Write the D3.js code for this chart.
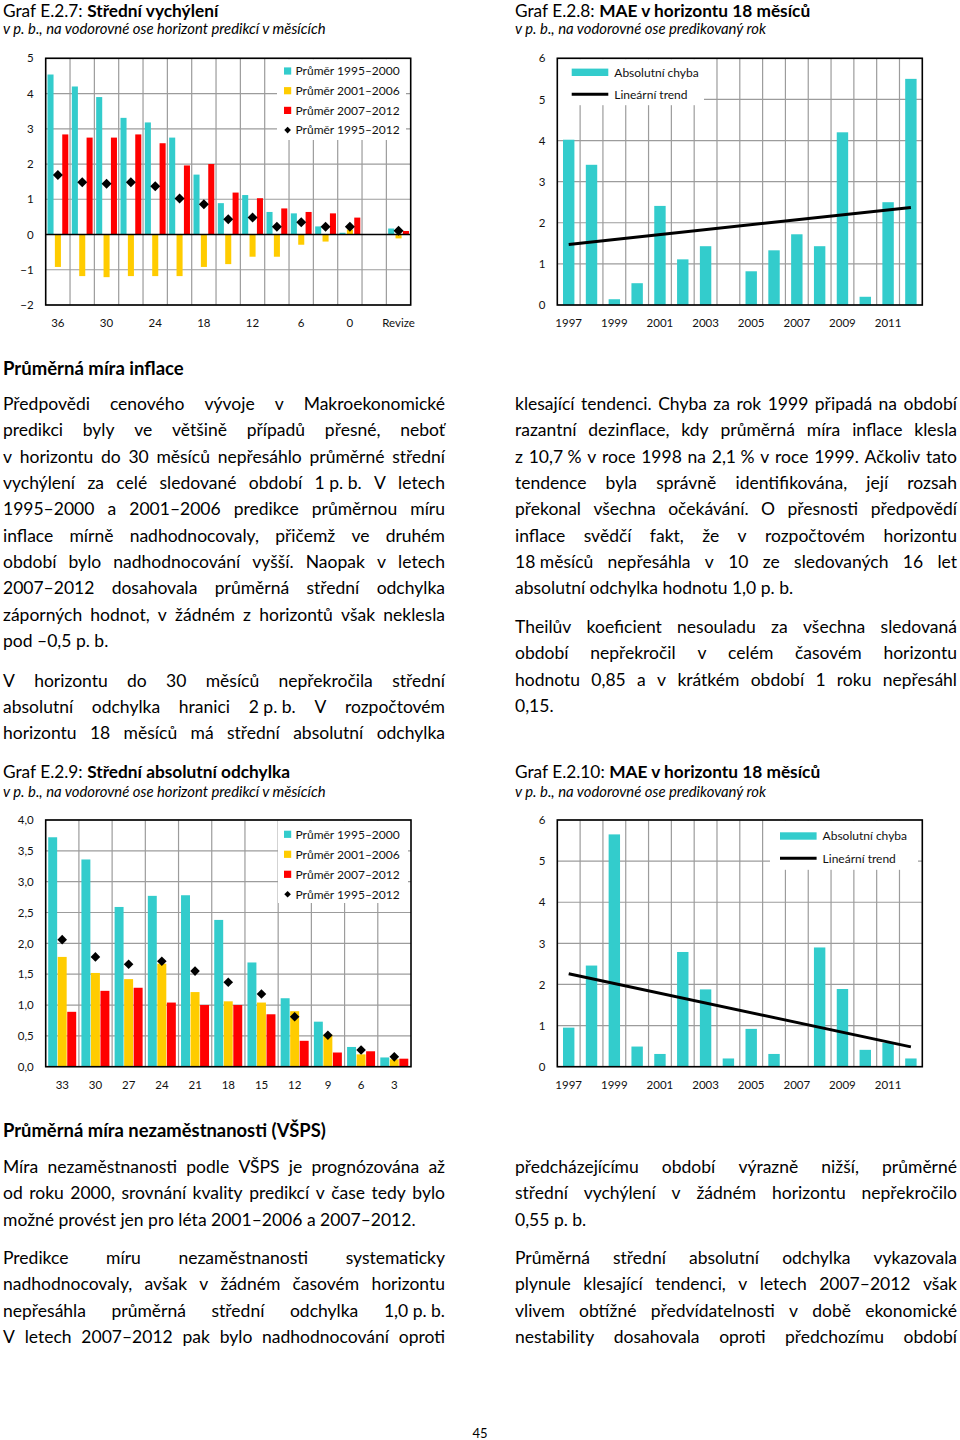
<!DOCTYPE html>
<html><head><meta charset="utf-8">
<script src="https://cdn.jsdelivr.net/npm/d3@7"></script>
<style>
html,body{margin:0;padding:0;background:#fff;}
body{width:960px;height:1440px;position:relative;overflow:hidden;}
svg{position:absolute;left:0;top:0;}
</style></head><body>
<script>
// ---------------- DATA ----------------
// Graf E.2.7: Střední vychýlení (bias), horizons in months
const biasHorizons = ["36","33","30","27","24","21","18","15","12","9","6","3","0"," ","Revize"];
const bias1995_2000 = [4.54,4.20,3.90,3.31,3.18,2.75,1.70,0.89,1.12,0.64,0.60,0.23,0.05,null,0.17];
const bias2001_2006 = [-0.92,-1.18,-1.21,-1.18,-1.18,-1.18,-0.92,-0.84,-0.63,-0.63,-0.29,-0.20,0.14,null,-0.11];
const bias2007_2012 = [2.84,2.75,2.75,2.84,2.59,1.96,2.00,1.19,1.03,0.74,0.64,0.60,0.48,null,0.10];
const bias1995_2012 = [1.69,1.48,1.44,1.48,1.37,1.02,0.86,0.43,0.48,0.22,0.35,0.22,0.22,null,0.11];
const biasTicks = [-2,-1,0,1,2,3,4,5];

// Graf E.2.8: MAE v horizontu 18 měsíců (inflace)
const years = ["1997","1998","1999","2000","2001","2002","2003","2004","2005","2006","2007","2008","2009","2010","2011","2012"];
const maeInflation = [4.02,3.41,0.14,0.53,2.41,1.11,1.43,0,0.82,1.33,1.72,1.43,4.20,0.20,2.50,5.50];
const maeYearTicks = [0,1,2,3,4,5,6];

// Graf E.2.9: Střední absolutní odchylka
const maeHorizons = ["33","30","27","24","21","18","15","12","9","6","3"];
const mae1995_2000 = [3.72,3.36,2.59,2.77,2.78,2.38,1.69,1.11,0.73,0.32,0.15];
const mae2001_2006 = [1.78,1.52,1.42,1.67,1.21,1.06,1.04,0.90,0.52,0.20,0.12];
const mae2007_2012 = [0.89,1.23,1.28,1.04,1.00,1.00,0.85,0.42,0.23,0.25,0.13];
const mae1995_2012 = [2.06,1.78,1.66,1.71,1.55,1.37,1.18,0.81,0.51,0.27,0.16];
const maeHorizTicks = [0,0.5,1,1.5,2,2.5,3,3.5,4];

// Graf E.2.10: MAE v horizontu 18 měsíců (nezaměstnanost)
const maeUnemployment = [0.95,2.46,5.65,0.49,0.31,2.79,1.88,0.20,0.92,0.31,0,2.90,1.89,0.41,0.58,0.20];

const periodNames = ["Průměr 1995–2000","Průměr 2001–2006","Průměr 2007–2012","Průměr 1995–2012"];
const maeLegend = ["Absolutní chyba","Lineární trend"];

// ---------------- SETUP ----------------
const FONT = "Lato, 'Noto Sans', 'DejaVu Sans', sans-serif";
const GRID = "#9c9c9c";
const COLORS = ["#33CCCC","#FFCC00","#FF0000"];
const svg = d3.select("body").append("svg").attr("width",960).attr("height",1440)
  .attr("font-family",FONT);

function measure(str, fs, weight, style){
  const t = svg.append("text").attr("font-size",fs).attr("font-weight",weight||"normal")
    .attr("font-style",style||"normal").style("white-space","pre").text(str);
  const w = t.node().getComputedTextLength(); t.remove(); return w;
}

function title(x, y, reg, bold, targetW, fs){
  const t = svg.append("text").attr("x",x).attr("y",y).attr("font-size",fs).style("white-space","pre").attr("fill","#000");
  t.append("tspan").text(reg);
  t.append("tspan").attr("font-weight","bold").text(bold);
  const w = t.node().getComputedTextLength();
  let nf = fs*targetW/w; nf = Math.max(fs*0.95, Math.min(fs*1.06, nf));
  t.attr("font-size", nf);
}
function subtitle(x,y,str,targetW,fs){
  const t = svg.append("text").attr("x",x).attr("y",y).attr("font-size",fs).attr("font-style","italic").attr("fill","#000").text(str);
  const w = t.node().getComputedTextLength();
  let nf = fs*targetW/w; nf = Math.max(fs*0.92, Math.min(fs*1.1, nf));
  t.attr("font-size", nf);
}

// ---------------- GROUPED CHART ----------------
function groupedChart(cfg){
  const {x0,x1,yTop,yBot,domain,cats,series,avg,ticks,fmt,labelEvery,subRange,subPad,box,legX,legY,legStep,dSize} = cfg;
  const g = svg.append("g");
  const x = d3.scaleBand().domain(cats).range([x0,x1]).padding(0);
  const y = d3.scaleLinear().domain(domain).range([yBot,yTop]);
  const sub = d3.scaleBand().domain(d3.range(series.length)).range(subRange).paddingInner(subPad);
  g.append("g").selectAll("line").data(ticks).join("line")
    .attr("x1",x0).attr("x2",x1).attr("y1",d=>y(d)).attr("y2",d=>y(d))
    .attr("stroke",GRID).attr("stroke-width",1.2);
  g.append("g").selectAll("line").data(cats.slice(1)).join("line")
    .attr("x1",d=>x(d)).attr("x2",d=>x(d)).attr("y1",yTop).attr("y2",yBot)
    .attr("stroke",GRID).attr("stroke-width",1.2);
  g.append("rect").attr("x",box[0]).attr("y",box[1]).attr("width",box[2]).attr("height",box[3]).attr("fill","#fff");
  series.forEach((vals,si)=>{
    g.append("g").selectAll("rect")
      .data(cats.map((c,i)=>({c,v:vals[i]})).filter(d=>d.v!=null))
      .join("rect")
      .attr("x",d=>x(d.c)+sub(si)).attr("width",sub.bandwidth())
      .attr("y",d=>y(Math.max(0,d.v))).attr("height",d=>Math.abs(y(d.v)-y(0)))
      .attr("fill",COLORS[si]);
  });
  if(domain[0]<0){
    g.append("line").attr("x1",x0).attr("x2",x1).attr("y1",y(0)).attr("y2",y(0))
      .attr("stroke","#000").attr("stroke-width",1.6);
  }
  g.append("g").selectAll("path")
    .data(cats.map((c,i)=>({c,v:avg[i]})).filter(d=>d.v!=null))
    .join("path")
    .attr("d",d3.symbol(d3.symbolSquare,dSize))
    .attr("transform",d=>`translate(${x(d.c)+sub(1)+sub.bandwidth()/2},${y(d.v)}) rotate(45)`)
    .attr("fill","#000");
  g.append("rect").attr("x",x0).attr("y",yTop).attr("width",x1-x0).attr("height",yBot-yTop)
    .attr("fill","none").attr("stroke","#000").attr("stroke-width",1.6);
  const ya = g.append("g").attr("transform",`translate(${x0},0)`)
    .call(d3.axisLeft(y).tickValues(ticks).tickFormat(fmt).tickSize(0).tickPadding(12));
  const xa = g.append("g").attr("transform",`translate(0,${yBot})`)
    .call(d3.axisBottom(x).tickValues(cats.filter((c,i)=>i%labelEvery===0)).tickSize(0).tickPadding(14));
  [ya,xa].forEach(a=>{a.select(".domain").remove(); a.attr("font-family",FONT).attr("font-size",11.5);
    a.selectAll("text").attr("fill","#111");});
  // legend
  const lg = g.append("g").attr("font-size",12);
  periodNames.forEach((name,i)=>{
    const yy = legY + i*legStep;
    if(i<3){
      lg.append("rect").attr("x",legX).attr("y",yy-3.6).attr("width",7.2).attr("height",7.2).attr("fill",COLORS[i]);
    } else {
      lg.append("path").attr("d",d3.symbol(d3.symbolSquare,22)).attr("transform",`translate(${legX+3.6},${yy}) rotate(45)`).attr("fill","#000");
    }
    lg.append("text").attr("x",legX+11.5).attr("y",yy).attr("dy","0.35em").attr("fill","#111").text(name);
  });
}

// ---------------- MAE + TREND CHART ----------------
function maeChart(cfg){
  const {x0,x1,yTop,yBot,cats,vals,ticks,box,legX,legY,legStep} = cfg;
  const g = svg.append("g");
  const x = d3.scaleBand().domain(cats).range([x0,x1]).paddingInner(0.5).paddingOuter(0.25);
  const y = d3.scaleLinear().domain([0,6]).range([yBot,yTop]);
  const step = x.step();
  g.append("g").selectAll("line").data(ticks).join("line")
    .attr("x1",x0).attr("x2",x1).attr("y1",d=>y(d)).attr("y2",d=>y(d))
    .attr("stroke",GRID).attr("stroke-width",1.2);
  g.append("g").selectAll("line").data(d3.range(1,cats.length)).join("line")
    .attr("x1",i=>x0+i*step).attr("x2",i=>x0+i*step).attr("y1",yTop).attr("y2",yBot)
    .attr("stroke",GRID).attr("stroke-width",1.2);
  g.append("rect").attr("x",box[0]).attr("y",box[1]).attr("width",box[2]).attr("height",box[3]).attr("fill","#fff");
  g.append("g").selectAll("rect").data(cats.map((c,i)=>({c,v:vals[i]})).filter(d=>d.v>0)).join("rect")
    .attr("x",d=>x(d.c)).attr("width",x.bandwidth())
    .attr("y",d=>y(d.v)).attr("height",d=>y(0)-y(d.v)).attr("fill",COLORS[0]);
  // linear trend (least squares)
  const idx = d3.range(vals.length);
  const mx = d3.mean(idx), my = d3.mean(vals);
  const slope = d3.sum(idx,i=>(i-mx)*(vals[i]-my))/d3.sum(idx,i=>(i-mx)*(i-mx));
  const icpt = my - slope*mx;
  const ends = [0, vals.length-1].map(i=>({c:cats[i], v:icpt+slope*i}));
  g.append("path").datum(ends)
    .attr("d",d3.line().x(d=>x(d.c)+x.bandwidth()/2).y(d=>y(d.v)))
    .attr("fill","none").attr("stroke","#000").attr("stroke-width",3);
  g.append("rect").attr("x",x0).attr("y",yTop).attr("width",x1-x0).attr("height",yBot-yTop)
    .attr("fill","none").attr("stroke","#000").attr("stroke-width",1.6);
  const ya = g.append("g").attr("transform",`translate(${x0},0)`)
    .call(d3.axisLeft(y).tickValues(ticks).tickFormat(d3.format("d")).tickSize(0).tickPadding(12));
  const xa = g.append("g").attr("transform",`translate(0,${yBot})`)
    .call(d3.axisBottom(x).tickValues(cats.filter((c,i)=>i%2===0)).tickSize(0).tickPadding(14));
  [ya,xa].forEach(a=>{a.select(".domain").remove(); a.attr("font-family",FONT).attr("font-size",11.5);
    a.selectAll("text").attr("fill","#111");});
  const lg = g.append("g").attr("font-size",12);
  lg.append("rect").attr("x",legX).attr("y",legY-3.7).attr("width",36.6).attr("height",7.4).attr("fill",COLORS[0]);
  lg.append("line").attr("x1",legX).attr("x2",legX+36.6).attr("y1",legY+legStep).attr("y2",legY+legStep)
    .attr("stroke","#000").attr("stroke-width",3);
  maeLegend.forEach((t,i)=>lg.append("text").attr("x",legX+42.6).attr("y",legY+i*legStep).attr("dy","0.35em").attr("fill","#111").text(t));
}

// ---------------- TITLES ----------------
title(3,16.5,"Graf E.2.7: ","Střední vychýlení",229,16.3);
subtitle(3,33.5,"v p. b., na vodorovné ose horizont predikcí v měsících",335,13.5);
title(515,16.5,"Graf E.2.8: ","MAE v horizontu 18 měsíců",311,16.3);
subtitle(515,33.5,"v p. b., na vodorovné ose predikovaný rok",264,13.5);
title(3,778,"Graf E.2.9: ","Střední absolutní odchylka",306,16.3);
subtitle(3,797,"v p. b., na vodorovné ose horizont predikcí v měsících",335,13.5);
title(515,778,"Graf E.2.10: ","MAE v horizontu 18 měsíců",320,16.3);
subtitle(515,797,"v p. b., na vodorovné ose predikovaný rok",264,13.5);
title(3,375,"","Průměrná míra inflace",181,17.5);
title(3,1137,"","Průměrná míra nezaměstnanosti (VŠPS)",323,17.5);

// ---------------- CHARTS ----------------
groupedChart({x0:45.7,x1:410.7,yTop:58.3,yBot:305,domain:[-2,5],cats:biasHorizons,
  series:[bias1995_2000,bias2001_2006,bias2007_2012],avg:bias1995_2012,ticks:biasTicks,
  fmt:d3.format("d"),labelEvery:2,subRange:[1.8,22.6],subPad:0.18,
  box:[277,59.2,129,80.8],legX:284,legY:71,legStep:19.7,dSize:50});
maeChart({x0:557.3,x1:922.3,yTop:58.3,yBot:305,cats:years,vals:maeInflation,ticks:maeYearTicks,
  box:[558,59.2,146,46],legX:571.7,legY:72.3,legStep:22});
groupedChart({x0:45.7,x1:411,yTop:820,yBot:1066.7,domain:[0,4],cats:maeHorizons,
  series:[mae1995_2000,mae2001_2006,mae2007_2012],avg:mae1995_2012,ticks:maeHorizTicks,
  fmt:d=>d3.format(".1f")(d).replace(".",","),labelEvery:1,subRange:[2.5,30.5],subPad:0.06,
  box:[278,820.8,130,82.2],legX:284,legY:834.3,legStep:20,dSize:46});
maeChart({x0:557.3,x1:922.3,yTop:820,yBot:1066.7,cats:years,vals:maeUnemployment,ticks:maeYearTicks,
  box:[770,820.8,148,49],legX:780,legY:836,legStep:22.3});

// ---------------- BODY TEXT ----------------
const NB = "\u00A0";
const textBlocks = [
  {x:3, y0:410, last:false, lines:[
    "Předpovědi cenového vývoje v Makroekonomické",
    "predikci byly ve většině případů přesné, neboť",
    "v horizontu do 30 měsíců nepřesáhlo průměrné střední",
    "vychýlení za celé sledované období 1"+NB+"p."+NB+"b. V letech",
    "1995–2000 a 2001–2006 predikce průměrnou míru",
    "inflace mírně nadhodnocovaly, přičemž ve druhém",
    "období bylo nadhodnocování vyšší. Naopak v letech",
    "2007–2012 dosahovala průměrná střední odchylka",
    "záporných hodnot, v žádném z horizontů však neklesla",
    "pod –0,5 p. b."]},
  {x:3, y0:686.5, last:true, lines:[
    "V horizontu do 30 měsíců nepřekročila střední",
    "absolutní odchylka hranici 2"+NB+"p."+NB+"b. V rozpočtovém",
    "horizontu 18 měsíců má střední absolutní odchylka"]},
  {x:515, y0:410, last:false, lines:[
    "klesající tendenci. Chyba za rok 1999 připadá na období",
    "razantní dezinflace, kdy průměrná míra inflace klesla",
    "z 10,7"+NB+"% v roce 1998 na 2,1"+NB+"% v roce 1999. Ačkoliv tato",
    "tendence byla správně identifikována, její rozsah",
    "překonal všechna očekávání. O přesnosti předpovědí",
    "inflace svědčí fakt, že v rozpočtovém horizontu",
    "18"+NB+"měsíců nepřesáhla v 10 ze sledovaných 16 let",
    "absolutní odchylka hodnotu 1,0 p. b."]},
  {x:515, y0:633, last:false, lines:[
    "Theilův koeficient nesouladu za všechna sledovaná",
    "období nepřekročil v celém časovém horizontu",
    "hodnotu 0,85 a v krátkém období 1 roku nepřesáhl",
    "0,15."]},
  {x:3, y0:1173, last:false, lines:[
    "Míra nezaměstnanosti podle VŠPS je prognózována až",
    "od roku 2000, srovnání kvality predikcí v čase tedy bylo",
    "možné provést jen pro léta 2001–2006 a 2007–2012."]},
  {x:3, y0:1264, last:true, lines:[
    "Predikce míru nezaměstnanosti systematicky",
    "nadhodnocovaly, avšak v žádném časovém horizontu",
    "nepřesáhla průměrná střední odchylka 1,0"+NB+"p."+NB+"b.",
    "V letech 2007–2012 pak bylo nadhodnocování oproti"]},
  {x:515, y0:1173, last:false, lines:[
    "předcházejícímu období výrazně nižší, průměrné",
    "střední vychýlení v žádném horizontu nepřekročilo",
    "0,55 p. b."]},
  {x:515, y0:1264, last:true, lines:[
    "Průměrná střední absolutní odchylka vykazovala",
    "plynule klesající tendenci, v letech 2007–2012 však",
    "vlivem obtížné předvídatelnosti v době ekonomické",
    "nestability dosahovala oproti předchozímu období"]}
];
const COLW = 442, LSTEP = 26.35;
// choose font size so all justified lines fit
let baseFs = 17.5;
let ratio = 0;
textBlocks.forEach(b=>b.lines.forEach((ln,i)=>{
  const justified = i<b.lines.length-1 || b.last;
  if(!justified) return;
  const words = ln.split(" ");
  const sw = d3.sum(words,w=>measure(w,baseFs));
  ratio = Math.max(ratio,(sw+(words.length-1)*0.2*baseFs)/COLW);
}));
const FS = ratio>1 ? baseFs/ratio : baseFs;
const tg = svg.append("g").attr("font-size",FS).attr("fill","#000");
textBlocks.forEach(b=>b.lines.forEach((ln,i)=>{
  const yy = b.y0 + i*LSTEP;
  const justified = i<b.lines.length-1 || b.last;
  if(!justified){ tg.append("text").attr("x",b.x).attr("y",yy).style("white-space","pre").text(ln); return; }
  const words = ln.split(" ");
  const ws = words.map(w=>measure(w,FS));
  const gap = (COLW - d3.sum(ws))/(words.length-1);
  let cx = b.x;
  words.forEach((w,k)=>{ tg.append("text").attr("x",cx).attr("y",yy).style("white-space","pre").text(w); cx += ws[k]+gap; });
}));
svg.append("text").attr("x",480).attr("y",1437.5).attr("text-anchor","middle").attr("font-size",13).attr("fill","#000").text("45");
</script>
</body></html>
